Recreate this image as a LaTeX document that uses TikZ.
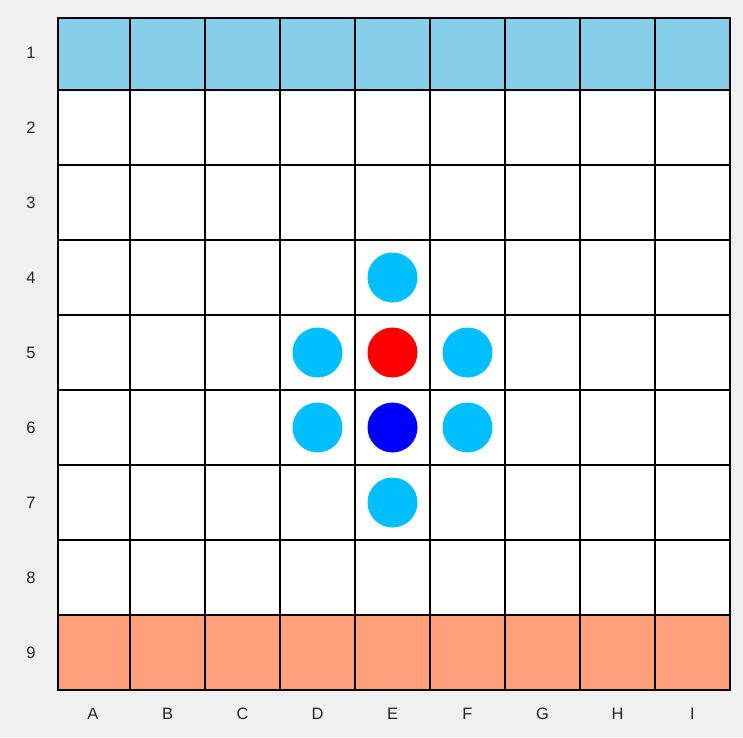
\documentclass[tikz,border=0pt]{standalone}
\usepackage{fontspec}
\setmainfont{Liberation Sans}
\definecolor{bgc}{HTML}{F0F0F0}
\definecolor{topc}{HTML}{87CEEB}
\definecolor{botc}{HTML}{FFA07A}
\definecolor{piece}{HTML}{00BFFF}
\definecolor{pred}{HTML}{FF0000}
\definecolor{pblue}{HTML}{0000FF}
\begin{document}
\begin{tikzpicture}[x=1pt,y=-1pt,
  lbl/.style={font=\fontsize{16.5}{18}\selectfont, text=black!85},
  disc/.style={circle, minimum size=50pt, inner sep=0pt, draw=none},
  gridln/.style={line width=2pt, black}]
\useasboundingbox (0,0) rectangle (743,737);
\fill[bgc] (0,0) rectangle (743,737);
% fills
\fill[topc] (58,18) rectangle (730,90);
\fill[white] (58,90) rectangle (730,615);
\fill[botc] (58,615) rectangle (730,690);
% grid lines
\foreach \x in {130,205,280,355,430,505,580,655}
  \draw[gridln] (\x,18) -- (\x,690);
\foreach \y in {90,165,240,315,390,465,540,615}
  \draw[gridln] (58,\y) -- (730,\y);
\draw[line width=2.6pt, black] (58,18) rectangle (730,690);
% row labels
\foreach \r/\y in {1/53,2/127.5,3/202.5,4/277.5,5/352.5,6/427.5,7/502.5,8/577.5,9/652.5}
  \node[lbl] (row\r) at (31,\y) {\r};
% column labels
\foreach \c/\x in {A/93,B/167.5,C/242.5,D/317.5,E/392.5,F/467.5,G/542.5,H/617.5,I/692.5}
  \node[lbl] (col\c) at (\x,714) {\c};
% pieces
\node[disc, fill=piece] (e4) at (392.5,277.5) {};
\node[disc, fill=piece] (d5) at (317.5,352.5) {};
\node[disc, fill=pred] (e5) at (392.5,352.5) {};
\node[disc, fill=piece] (f5) at (467.5,352.5) {};
\node[disc, fill=piece] (d6) at (317.5,427.5) {};
\node[disc, fill=pblue] (e6) at (392.5,427.5) {};
\node[disc, fill=piece] (f6) at (467.5,427.5) {};
\node[disc, fill=piece] (e7) at (392.5,502.5) {};
\end{tikzpicture}
\end{document}
